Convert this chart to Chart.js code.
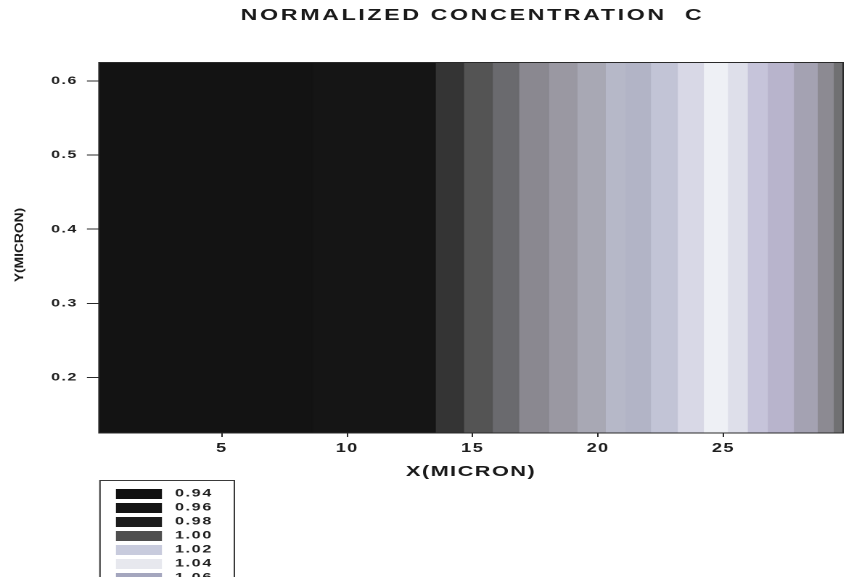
<!DOCTYPE html>
<html>
<head>
<meta charset="utf-8">
<title>Normalized concentration C</title>
<script src="https://cdn.jsdelivr.net/npm/chart.js@4.4.1/dist/chart.umd.min.js"></script>
<style>
  html, body { margin: 0; padding: 0; background: #ffffff; }
  #wrap { width: 846px; height: 585px; overflow: hidden; }
  canvas { display: block; }
</style>
</head>
<body>
<div id="wrap">
  <!-- drawn at 583 px wide and shown 846 px wide: the lettering is horizontally extended -->
  <canvas id="c" width="583" height="585" style="width:846px;height:585px"></canvas>
</div>
<script>
// ---- data -------------------------------------------------------------
// Contour bands of C along x (the field is uniform in y); band i spans xEdges[i]..xEdges[i+1]
const xEdges = [0.1, 8.6, 13.5, 14.63, 15.77, 16.83, 18.02, 19.15, 20.28, 21.08,
                22.08, 23.15, 24.19, 25.15, 25.94, 26.74, 27.78, 28.73, 29.37, 29.77];
const bandC  = [0.93, 0.935, 0.95, 0.97, 0.98, 0.99, 1.00, 1.01, 1.02, 1.02,
                1.03, 1.04, 1.06, 1.05, 1.04, 1.03, 1.01, 0.99, 0.97];
const yRange = [0.125, 0.625];
const xTicks = [5, 10, 15, 20, 25];
const yTicks = [0.2, 0.3, 0.4, 0.5, 0.6];
const legendLevels = [0.94, 0.96, 0.98, 1.00, 1.02, 1.04, 1.06];

// ---- styles -----------------------------------------------------------
const bandShade = ['#131313', '#151515', '#343434', '#545454', '#6a6a6e', '#8a8890',
                   '#9a98a2', '#a8a8b4', '#b6b8c8', '#b2b4c6', '#c2c4d6', '#d8d8e6',
                   '#eef0f5', '#dedfea', '#c6c4da', '#b8b4cc', '#a4a2b2', '#8c8a92', '#707072'];
const levelShade = ['#101010', '#151515', '#1c1c1c', '#4e4e4e', '#c8cbdd', '#e7e8ee', '#a4a6be'];
const FONT = "'Liberation Sans', Arial, Helvetica, sans-serif";
const SX = 846 / 583;          // horizontal display stretch of the canvas
const INK = '#1e1e1e';

Chart.defaults.font.family = FONT;
Chart.defaults.color = INK;

// each band is outlined up its left side, across the top and down its right side,
// then filled down to the bottom of the y scale
const datasets = bandC.map((c, i) => ({
  label: 'C ' + c.toFixed(3),
  data: [
    { x: xEdges[i],     y: yRange[0] },
    { x: xEdges[i],     y: yRange[1] },
    { x: xEdges[i + 1], y: yRange[1] },
    { x: xEdges[i + 1], y: yRange[0] }
  ],
  backgroundColor: bandShade[i],
  borderColor: bandShade[i],
  borderWidth: 1,
  tension: 0,
  pointRadius: 0,
  fill: 'start'
}));

// wide lettering for the axis text
const letterSpacingPlugin = {
  id: 'letterSpacing',
  beforeDraw(chart) { chart.ctx.letterSpacing = '1px'; }
};

// frame around the plotting area
const framePlugin = {
  id: 'frame',
  afterDatasetsDraw(chart) {
    const { ctx, chartArea: a } = chart;
    ctx.save();
    ctx.strokeStyle = '#2a2a2a';
    ctx.lineWidth = 1;
    ctx.strokeRect(a.left, a.top, a.right - a.left, a.bottom - a.top);
    ctx.restore();
  }
};

// main title and the rotated y-axis title
const titlesPlugin = {
  id: 'titles',
  afterDraw(chart) {
    const { ctx, chartArea: a } = chart;
    ctx.save();
    ctx.letterSpacing = '1.8px';
    ctx.font = 'bold 16px ' + FONT;
    ctx.fillStyle = '#1a1a1a';
    ctx.textAlign = 'center';
    ctx.textBaseline = 'middle';
    ctx.fillText('NORMALIZED CONCENTRATION  C', (a.left + a.right) / 2 + 1, 15.5);
    ctx.restore();

    ctx.save();
    ctx.letterSpacing = '0px';
    ctx.translate(13.9, 245);
    ctx.scale(1 / SX, 1);
    ctx.rotate(-Math.PI / 2);
    ctx.scale(1.2, 1);
    ctx.font = 'bold 11.5px ' + FONT;
    ctx.fillStyle = '#1a1a1a';
    ctx.textAlign = 'center';
    ctx.textBaseline = 'middle';
    ctx.fillText('Y(MICRON)', 0, 0);
    ctx.restore();
  }
};

// level key under the plot
const levelKeyPlugin = {
  id: 'levelKey',
  afterDraw(chart) {
    const ctx = chart.ctx;
    ctx.save();
    ctx.beginPath();
    ctx.rect(0, 0, chart.width, 577);
    ctx.clip();
    ctx.strokeStyle = '#3a3a3a';
    ctx.lineWidth = 1;
    ctx.strokeRect(68.9, 480.5, 92.6, 130);
    ctx.letterSpacing = '1.2px';
    ctx.font = 'bold 11px ' + FONT;
    ctx.textAlign = 'left';
    ctx.textBaseline = 'middle';
    legendLevels.forEach((lv, i) => {
      const y = 489 + i * 14;
      ctx.fillStyle = levelShade[i];
      ctx.fillRect(79.9, y, 31.7, 10);
      ctx.fillStyle = INK;
      ctx.fillText(lv.toFixed(2), 120.6, y + 4.5);
    });
    ctx.restore();
  }
};

new Chart(document.getElementById('c'), {
  type: 'line',
  data: { datasets },
  plugins: [letterSpacingPlugin, framePlugin, titlesPlugin, levelKeyPlugin],
  options: {
    responsive: false,
    devicePixelRatio: 2,
    animation: false,
    events: [],
    layout: { padding: { top: 62.5, right: 2, left: 0, bottom: 0 } },
    plugins: {
      legend: { display: false },
      tooltip: { enabled: false },
      title: { display: false }
    },
    scales: {
      x: {
        type: 'linear',
        min: xEdges[0],
        max: xEdges[xEdges.length - 1],
        afterBuildTicks: s => { s.ticks = xTicks.map(v => ({ value: v })); },
        afterFit: s => { s.height = 152; },
        grid: { drawOnChartArea: false, drawTicks: true, tickLength: 4, color: '#2a2a2a', lineWidth: 1 },
        border: { display: false },
        ticks: {
          font: { size: 12.5, weight: 'bold' },
          color: INK,
          padding: 4.2,
          autoSkip: false,
          maxRotation: 0,
          callback: v => String(v)
        },
        title: {
          display: true,
          text: 'X(MICRON)',
          font: { size: 15, weight: 'bold' },
          color: '#1a1a1a',
          padding: { top: 0, bottom: 104.3 }
        }
      },
      y: {
        type: 'linear',
        min: yRange[0],
        max: yRange[1],
        afterBuildTicks: s => { s.ticks = yTicks.map(v => ({ value: v })); },
        afterFit: s => { s.width = 68.2; },
        grid: { drawOnChartArea: false, drawTicks: true, tickLength: 8.3, color: '#2a2a2a', lineWidth: 1 },
        border: { display: false },
        ticks: {
          font: { size: 11, weight: 'bold' },
          color: INK,
          padding: 6.3,
          callback: v => v.toFixed(1)
        }
      }
    }
  }
});
</script>
</body>
</html>
